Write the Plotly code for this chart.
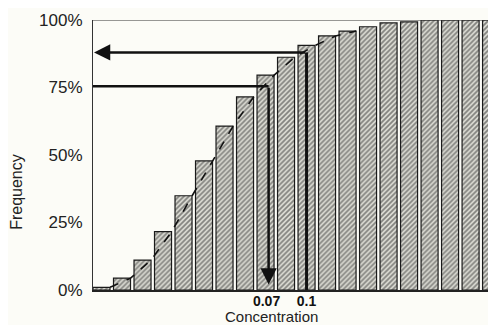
import plotly.graph_objects as go

bins = list(range(20))
freq = [0.010, 0.044, 0.111, 0.216, 0.349, 0.478, 0.607, 0.715, 0.796, 0.862,
        0.906, 0.941, 0.959, 0.975, 0.989, 0.993, 1.0, 1.0, 1.0, 1.0]
tick_pos = [8.05, 10.0]
tick_text = ["0.07", "0.1"]
y_ticks = [0, 0.25, 0.5, 0.75, 1.0]
y_tick_text = ["0%", "25%", "50%", "75%", "100%"]
p75, p88 = 0.755, 0.88
x75, x88 = 8.15, 10.0
dash_n = 13

BG = "#fcfcf7"
fig = go.Figure()
fig.add_trace(go.Bar(
    x=bins, y=freq, width=0.83,
    marker=dict(color="#c8c8c0", line=dict(color="#1a1a1a", width=1.2),
                pattern=dict(shape="/", fgcolor="#2a2a2a", bgcolor="#dcdcd4",
                             size=3.5, solidity=0.5)),
    showlegend=False, hoverinfo="skip"))
fig.add_trace(go.Scatter(
    x=[b + 0.42 for b in bins[:dash_n]], y=freq[:dash_n], mode="lines",
    line=dict(color="#111", width=1.6, dash="dash"), showlegend=False, hoverinfo="skip"))

xmin, xmax = -0.415, 19.24
# top line at 100%
fig.add_shape(type="line", xref="paper", yref="y", x0=0, x1=1, y0=1, y1=1,
              line=dict(color="#333", width=1))
# 75% path
fig.add_shape(type="line", xref="x", yref="y", x0=xmin, x1=x75, y0=p75, y1=p75,
              line=dict(color="#111", width=2.5))
fig.add_annotation(x=x75, y=0.02, ax=x75, ay=p75, xref="x", yref="y", axref="x", ayref="y",
                   text="", showarrow=True, arrowhead=2, arrowsize=1.3, arrowwidth=2.5,
                   arrowcolor="#111", standoff=0)
# 88% path
fig.add_shape(type="line", xref="x", yref="y", x0=x88, x1=x88, y0=0, y1=p88,
              line=dict(color="#111", width=3))
fig.add_annotation(x=xmin + 0.05, y=p88, ax=x88, ay=p88, xref="x", yref="y", axref="x", ayref="y",
                   text="", showarrow=True, arrowhead=2, arrowsize=1.3, arrowwidth=2.5,
                   arrowcolor="#111", standoff=0)

fig.add_annotation(text="Frequency", xref="paper", yref="paper", x=-0.189, y=0.363,
                   textangle=-90, showarrow=False, font=dict(size=16, color="#222"),
                   xanchor="center", yanchor="middle")
fig.add_annotation(text="Concentration", xref="x", yref="paper", x=8.27, y=-0.0963,
                   showarrow=False, font=dict(size=15, color="#222"),
                   xanchor="center", yanchor="middle")

# page body has an 8px margin, so the figure is sized to fill the window from (8,8)
fig.update_layout(
    width=488, height=317, margin=dict(l=85, r=0, t=12, b=35),
    paper_bgcolor=BG, plot_bgcolor=BG, bargap=0.17,
    font=dict(family="Liberation Sans, Arial, sans-serif", color="#222"),
    xaxis=dict(range=[xmin, xmax], tickvals=tick_pos, ticktext=["<b>%s</b>" % t for t in tick_text],
               showgrid=False, zeroline=False, showline=True, linecolor="#222", linewidth=1.5,
               ticks="", ticklabelstandoff=-3,
               tickfont=dict(size=14, color="#111", family="Liberation Sans, Arial, sans-serif")),
    yaxis=dict(range=[0, 1], tickvals=y_ticks, ticktext=y_tick_text,
               showgrid=False, zeroline=False, showline=True, linecolor="#333", linewidth=1,
               ticks="", ticklabelstandoff=6, tickfont=dict(size=17, color="#222")),
)
fig.write_html("out.html")
